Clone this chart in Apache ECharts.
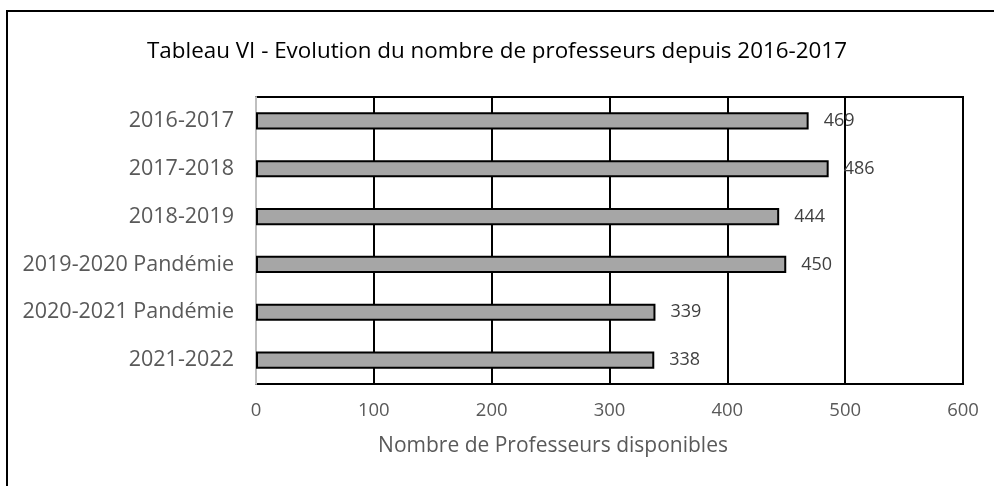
<!DOCTYPE html>
<html>
<head>
<meta charset="utf-8">
<script src="https://cdn.jsdelivr.net/npm/echarts@6/dist/echarts.min.js"></script>
<style>
  html, body { margin: 0; padding: 0; background: #fff; }
  #main { width: 994px; height: 486px; }
</style>
</head>
<body>
<div id="main"></div>
<script>
// données du graphique
var annees = ['2016-2017', '2017-2018', '2018-2019', '2019-2020 Pandémie', '2020-2021 Pandémie', '2021-2022'];
var professeurs = [469, 486, 444, 450, 339, 338];
var ticksX = [0, 100, 200, 300, 400, 500, 600];

var police = 'Open Sans, sans-serif';

var myChart = echarts.init(document.getElementById('main'));
myChart.setOption({
    animation: false,
    title: {
        text: 'Tableau VI - Evolution du nombre de professeurs depuis 2016-2017',
        left: 'center',
        top: 36,
        textStyle: { fontFamily: police, fontSize: 22.4, fontWeight: 'normal', color: '#000' }
    },
    grid: {
        left: 256, top: 97, width: 707, height: 287,
        show: true, borderColor: '#000', borderWidth: 2, containLabel: false
    },
    xAxis: {
        type: 'value',
        min: ticksX[0],
        max: ticksX[ticksX.length - 1],
        interval: 100,
        axisLine: { show: false },
        axisTick: { show: false },
        splitLine: { show: true, lineStyle: { color: '#000', width: 2 } },
        axisLabel: { margin: 17, fontFamily: police, fontSize: 18.5, color: '#595959' }
    },
    yAxis: {
        type: 'category',
        data: annees,
        inverse: true,
        axisLine: { show: true, lineStyle: { color: '#bfbfbf', width: 2 } },
        axisTick: { show: false },
        axisLabel: { margin: 22, fontFamily: police, fontSize: 21.5, color: '#595959' }
    },
    graphic: [
        {
            type: 'rect',
            shape: { x: 7, y: 11, width: 1000, height: 500 },
            style: { fill: 'none', stroke: '#000', lineWidth: 2 },
            silent: true
        },
        {
            type: 'text',
            x: 553, y: 446,
            style: {
                text: 'Nombre de Professeurs disponibles',
                font: '21px ' + police,
                fill: '#595959',
                textAlign: 'center',
                textVerticalAlign: 'middle'
            }
        }
    ],
    series: [{
        type: 'bar',
        data: professeurs,
        barWidth: '36%',
        itemStyle: { color: '#a6a6a6', borderColor: '#000', borderWidth: 2 },
        label: {
            show: true,
            position: 'right',
            distance: 15,
            fontFamily: police,
            fontSize: 18,
            color: '#404040'
        }
    }]
});
</script>
</body>
</html>
